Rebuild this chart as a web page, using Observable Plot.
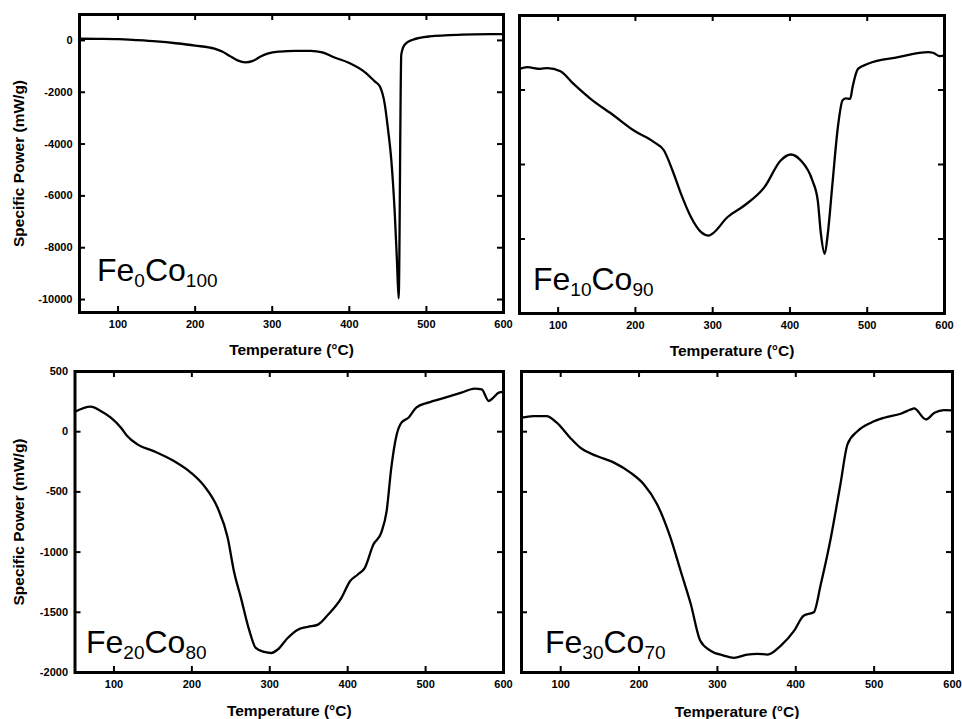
<!DOCTYPE html>
<html><head><meta charset="utf-8">
<script src="https://cdn.jsdelivr.net/npm/d3@7"></script>
<script src="https://cdn.jsdelivr.net/npm/@observablehq/plot@0.6"></script>
<style>
body{margin:0;background:#fff;}
#fig{position:relative;width:962px;height:719px;overflow:hidden;font-family:Arial,"Liberation Sans",sans-serif;background:#fff;}
#fig svg{position:absolute;}
</style></head><body><div id="fig"></div>
<script>
// ---- data ----
const xTicks = [100, 200, 300, 400, 500, 600];
const yTicksTop = [0, -2000, -4000, -6000, -8000, -10000];
const yTicksMid = [-500, -1000, -1500];
const yTicksBottom = [500, 0, -500, -1000, -1500, -2000];
const xTitle = "Temperature (°C)";
const yTitle = "Specific Power (mW/g)";

const fe0co100Temp = [50,75,100,125,150,175,200,225,235,245,255,265,275,285,295,310,330,350,365,380,400,420,433,439.5,446,450,454.6,458.8,461.8,464,467.4,471.7,482.4,504,546,594,600];
const fe0co100Power = [65,60,50,10,-40,-110,-200,-320,-430,-600,-770,-850,-790,-620,-500,-430,-400,-400,-460,-650,-870,-1220,-1580,-1773,-2466,-3380,-4663,-6590,-8516,-9952,-550,-166,27,154,220,243,245];

const fe10co90Temp = [50,60,77,86,103,120,142,172,198,224,237,248,259,272,285,295,300,319,341,367,388,401,414,429,436,440,445,449,455,462,468,472,478,481,488,501,540,579,585,594,600];
const fe10co90Power = [-358,-347,-358,-353,-374,-459,-559,-671,-772,-850,-906,-1040,-1197,-1354,-1454,-1477,-1463,-1354,-1275,-1152,-973,-933,-973,-1107,-1242,-1463,-1600,-1463,-1128,-750,-570,-556,-559,-481,-358,-324,-280,-246,-250,-273,-270];

const fe20co80Temp = [50,70,83,96,109,117,130,151,177,199,216,233,246,254,263,274,282,293,302,310,323,336,349,362,375,392,403,413,422,433,443,450,456,463,469,478,488,503,525,546,563,572,581,587,594,600];
const fe20co80Power = [166,208,172,116,33,-36,-105,-161,-244,-341,-452,-632,-881,-1159,-1380,-1657,-1796,-1829,-1838,-1810,-1713,-1644,-1621,-1602,-1519,-1380,-1242,-1186,-1131,-937,-840,-660,-299,-22,75,116,200,241,283,324,358,352,255,283,324,330];

const fe30co70Temp = [50,65,82,95,112,125,146,168,189,206,223,240,253,266,278,291,308,321,338,351,364,381,398,410,423,432,444,457,466,479,496,513,534,547,551,566,577,589,600];
const fe30co70Power = [116,130,130,75,-50,-133,-202,-257,-340,-436,-602,-878,-1155,-1431,-1735,-1818,-1859,-1878,-1851,-1845,-1851,-1776,-1652,-1528,-1500,-1265,-906,-436,-105,6,75,116,149,185,193,102,157,180,177];

const labelFe0 = ["Fe", "0", "Co", "100"];
const labelFe10 = ["Fe", "10", "Co", "90"];
const labelFe20 = ["Fe", "20", "Co", "80"];
const labelFe30 = ["Fe", "30", "Co", "70"];

const FONT = "Arial, 'Liberation Sans', sans-serif";
const fmt = d => String(d);

function panel(o) {
  const [mt, mr, mb, ml] = o.margins;
  const fw = o.width - ml - mr, fh = o.height - mt - mb;
  const data = o.temp.map((t, i) => ({t, p: o.power[i]}));
  const marks = [
    Plot.tickX(xTicks, {x: d => d, insetTop: fh - 6, strokeWidth: 2}),
    Plot.tickX(xTicks, {x: d => d, insetBottom: fh - 6, strokeWidth: 2}),
    Plot.tickY(o.yTicks, {y: d => d, insetRight: fw - 6, strokeWidth: 2}),
    Plot.tickY(o.yTicks, {y: d => d, insetLeft: fw - 6, strokeWidth: 2}),
    Plot.axisX(xTicks, {tickSize: 0, tickPadding: 8, fontSize: 11, fontWeight: "bold", label: null, tickFormat: fmt}),
    Plot.lineY(data, {x: "t", y: "p", curve: "monotone-x", strokeWidth: 2.3, stroke: "black"}),
    Plot.frame({strokeWidth: 3, stroke: "black"}),
    Plot.text([xTitle], {frameAnchor: "bottom", lineAnchor: "bottom", dy: o.xTitleDy, fontSize: 15.5, fontWeight: "bold", text: d => d})
  ];
  if (o.yLabels) {
    marks.push(Plot.axisY(o.yTicks, {tickSize: 0, tickPadding: 7, fontSize: 11, fontWeight: "bold", label: null, tickFormat: fmt}));
    marks.push(Plot.text([yTitle], {frameAnchor: "left", textAnchor: "middle", lineAnchor: "bottom", rotate: -90, dx: 23 - ml, fontSize: 15.5, fontWeight: "bold", text: d => d}));
  }
  const chart = Plot.plot({
    width: o.width, height: o.height,
    marginTop: mt, marginRight: mr, marginBottom: mb, marginLeft: ml,
    x: {domain: [50, 600], label: null},
    y: {domain: o.yDomain, label: null, axis: o.yLabels ? undefined : null},
    style: {fontFamily: FONT, background: "transparent", overflow: "visible", color: "black"},
    marks
  });
  chart.style.left = o.left + "px";
  chart.style.top = o.top + "px";
  const svg = d3.select(chart);
  const t = svg.append("text")
    .attr("x", ml + o.labelDx).attr("y", o.height - mb - o.labelDy)
    .attr("text-anchor", "start")
    .attr("font-family", FONT).attr("font-size", 32).attr("fill", "black");
  t.append("tspan").text(o.label[0]);
  t.append("tspan").attr("font-size", 19).attr("dy", 6).text(o.label[1]);
  t.append("tspan").attr("dy", -6).text(o.label[2]);
  t.append("tspan").attr("font-size", 19).attr("dy", 6).text(o.label[3]);
  document.getElementById("fig").appendChild(chart);
}

panel({temp: fe0co100Temp, power: fe0co100Power, yDomain: [-10500, 1000], yTicks: yTicksTop, yLabels: true,
  left: 0, top: 0, width: 512, height: 362, margins: [14, 9, 50, 79], xTitleDy: 42,
  label: labelFe0, labelDx: 18, labelDy: 31});
panel({temp: fe10co90Temp, power: fe10co90Power, yDomain: [-2000, 0], yTicks: yTicksMid, yLabels: false,
  left: 480, top: 0, width: 482, height: 362, margins: [15, 18, 49, 39], xTitleDy: 42,
  label: labelFe10, labelDx: 14, labelDy: 23});
panel({temp: fe20co80Temp, power: fe20co80Power, yDomain: [-2000, 500], yTicks: yTicksBottom, yLabels: true,
  left: 0, top: 362, width: 512, height: 357, margins: [9, 9, 47, 74.5], xTitleDy: 43,
  label: labelFe20, labelDx: 11.5, labelDy: 19.3});
panel({temp: fe30co70Temp, power: fe30co70Power, yDomain: [-2000, 500], yTicks: yTicksBottom, yLabels: false,
  left: 480, top: 362, width: 482, height: 357, margins: [9, 10, 47, 41], xTitleDy: 44,
  label: labelFe30, labelDx: 24, labelDy: 19});
</script>
</body></html>
